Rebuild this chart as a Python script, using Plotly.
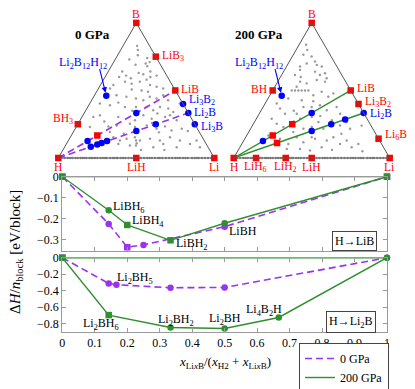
import math
import plotly.graph_objects as go

# target picture is 415x389; the page body adds an 8px margin, so the figure is drawn 8px in
W, H = 415, 389
OX, OY = 8, 8
FW, FH = W - OX, H - OY
FONT = "Liberation Serif, Times New Roman, serif"
RED, BLUE = "#ff0000", "#0000ff"
PURPLE, GREEN = "#9933ee", "#2f8f2f"
GRAY, AXIS = "#9a9a9a", "#9a9a9a"

# ---------------- ternary data: formula units (Li, B, H) ----------------
red_0gpa = [(0, 1, 0), (1, 3, 0), (1, 1, 0), (0, 1, 3), (0, 0, 1), (1, 0, 1), (1, 0, 0), (1, 1, 4)]
blue_0gpa = [(3, 2, 0), (2, 1, 0), (3, 1, 0), (2, 12, 12), (1, 1, 6), (1, 1, 1),
             (2, 1, 9), (2, 1, 7), (2, 1, 6), (2, 1, 5), (2, 1, 2), (2, 1, 1)]
red_200gpa = [(0, 1, 0), (0, 1, 1), (1, 1, 0), (3, 2, 0), (6, 1, 0), (0, 0, 1), (1, 0, 6),
              (1, 0, 2), (1, 0, 1), (1, 0, 0), (1, 1, 4), (1, 1, 2), (2, 1, 6)]
blue_200gpa = [(2, 1, 0), (2, 12, 12), (1, 1, 6), (1, 1, 1), (2, 1, 2), (2, 1, 1), (4, 2, 1)]
tie_lib = [(0, 0, 1), (1, 1, 0)]
tie_li2b = [(0, 0, 1), (2, 1, 0)]

# other sampled compositions (B fraction, Li fraction)
gray_0gpa = [
    (0.83, 0.09), (0.80, 0.11), (0.76, 0.13), (0.73, 0.09), (0.74, 0.20), (0.70, 0.21), (0.71, 0.23),
    (0.69, 0.15), (0.68, 0.23), (0.64, 0.09), (0.61, 0.13), (0.60, 0.09), (0.63, 0.20), (0.62, 0.235),
    (0.64, 0.27), (0.60, 0.29), (0.61, 0.325), (0.565, 0.145), (0.55, 0.195), (0.565, 0.24),
    (0.58, 0.276), (0.54, 0.318), (0.54, 0.083), (0.515, 0.074), (0.507, 0.217), (0.50, 0.284),
    (0.527, 0.367), (0.515, 0.415), (0.465, 0.141), (0.453, 0.21), (0.44, 0.278), (0.428, 0.331),
    (0.453, 0.36), (0.44, 0.41), (0.465, 0.44), (0.428, 0.49), (0.403, 0.065), (0.39, 0.136),
    (0.378, 0.238), (0.378, 0.377), (0.353, 0.432), (0.378, 0.463), (0.366, 0.522), (0.34, 0.567),
    (0.403, 0.578), (0.303, 0.073), (0.316, 0.109), (0.303, 0.233), (0.279, 0.352), (0.316, 0.387),
    (0.291, 0.453), (0.303, 0.533), (0.316, 0.558), (0.279, 0.62), (0.229, 0.088), (0.234, 0.204),
    (0.241, 0.254), (0.254, 0.332), (0.229, 0.377), (0.241, 0.446), (0.216, 0.522), (0.234, 0.567),
    (0.204, 0.624), (0.216, 0.683), (0.192, 0.235), (0.154, 0.276), (0.129, 0.33), (0.142, 0.367),
    (0.154, 0.414), (0.129, 0.459), (0.142, 0.517), (0.129, 0.587), (0.154, 0.639), (0.129, 0.715),
    (0.104, 0.792), (0.129, 0.822), (0.104, 0.333), (0.092, 0.413), (0.109, 0.448), (0.08, 0.569),
    (0.104, 0.621), (0.08, 0.719), (0.08, 0.868), (0.378, 0.309), (0.316, 0.34), (0.129, 0.434),
    (0.092, 0.452), (0.59, 0.17), (0.49, 0.33), (0.41, 0.18), (0.35, 0.30), (0.27, 0.16),
    (0.26, 0.47), (0.19, 0.55), (0.18, 0.33), (0.06, 0.50), (0.06, 0.65), (0.20, 0.73), (0.33, 0.47),
]
gray_200gpa = [
    (0.838, 0.045), (0.80, 0.072), (0.764, 0.065), (0.751, 0.124), (0.714, 0.164), (0.70, 0.118),
    (0.677, 0.087), (0.689, 0.188), (0.677, 0.226), (0.652, 0.099), (0.614, 0.086), (0.639, 0.202),
    (0.614, 0.246), (0.627, 0.272), (0.565, 0.143), (0.552, 0.192), (0.577, 0.244), (0.565, 0.303),
    (0.59, 0.301), (0.5, 0.122), (0.5, 0.143), (0.5, 0.165), (0.5, 0.186), (0.5, 0.207), (0.5, 0.229),
    (0.527, 0.14), (0.465, 0.278), (0.49, 0.319), (0.453, 0.38), (0.478, 0.40), (0.428, 0.222),
    (0.44, 0.13), (0.403, 0.074), (0.366, 0.114), (0.328, 0.165), (0.328, 0.24), (0.378, 0.258),
    (0.39, 0.358), (0.353, 0.42), (0.378, 0.471), (0.328, 0.518), (0.291, 0.28), (0.291, 0.098),
    (0.254, 0.149), (0.229, 0.204), (0.192, 0.286), (0.216, 0.339), (0.266, 0.41), (0.216, 0.467),
    (0.279, 0.489), (0.241, 0.561), (0.266, 0.591), (0.216, 0.638), (0.167, 0.139), (0.142, 0.226),
    (0.104, 0.298), (0.154, 0.327), (0.117, 0.388), (0.142, 0.45), (0.08, 0.524), (0.129, 0.532),
    (0.154, 0.562), (0.104, 0.63), (0.129, 0.66), (0.08, 0.716), (0.104, 0.747), (0.067, 0.307),
    (0.067, 0.392), (0.055, 0.462), (0.378, 0.311), (0.303, 0.349), (0.229, 0.386), (0.154, 0.423),
    (0.42, 0.30), (0.35, 0.21), (0.27, 0.25), (0.19, 0.40), (0.18, 0.60), (0.06, 0.60), (0.05, 0.80),
    (0.31, 0.40), (0.24, 0.70), (0.60, 0.13),
]
binary_li = [0.02, 0.04, 0.06, 0.075, 0.09, 0.11, 0.125, 0.143, 0.155, 0.167, 0.18, 0.2, 0.21, 0.22,
             0.235, 0.25, 0.27, 0.285, 0.3, 0.31, 0.333, 0.35, 0.36, 0.375, 0.38, 0.4, 0.415, 0.43,
             0.45, 0.47, 0.485, 0.5, 0.515, 0.53, 0.55, 0.57, 0.585, 0.6, 0.62, 0.64, 0.65, 0.667,
             0.69, 0.71, 0.73, 0.75, 0.765, 0.78, 0.8, 0.815, 0.83, 0.857, 0.875, 0.89, 0.9, 0.92,
             0.94, 0.96, 0.98]

# ---------------- convex-hull data ----------------
x_lib_0 = [0, 1/7, 1/5, 1/4, 1/2, 1]
dh_lib_0 = [0, -0.225, -0.336, -0.325, -0.238, 0]
sym_lib_0 = ["square", "circle", "square", "circle", "circle", "square"]
x_lib_200 = [0, 1/7, 1/5, 1/3, 1/2, 1]
dh_lib_200 = [0, -0.16, -0.23, -0.303, -0.222, 0]
sym_lib_200 = ["square", "circle", "square", "square", "circle", "square"]

x_li2b_0 = [0, 1/7, 1/6, 1/3, 1/2, 1]
dh_li2b_0 = [0, -0.313, -0.329, -0.365, -0.362, 0]
sym_li2b_0 = ["square", "circle", "circle", "circle", "circle", "circle"]
x_li2b_200 = [0, 1/7, 1/3, 1/2, 2/3, 1]
dh_li2b_200 = [0, -0.698, -0.849, -0.861, -0.727, 0]
sym_li2b_200 = ["square", "square", "circle", "circle", "circle", "circle"]

# ---------------- geometry (target pixels -> paper) ----------------
SQ3 = math.sqrt(3) / 2


def pxx(x):
    return (x - OX) / FW


def pxy(y):
    return 1 - (y - OY) / FH


TRI = {"left": dict(x0=58.3, y0=158.0, w=156.0), "right": dict(x0=233.7, y0=158.0, w=156.0)}


def tern_domain(t):
    return dict(x=[pxx(t["x0"]), pxx(t["x0"] + t["w"])],
                y=[pxy(t["y0"]), pxy(t["y0"] - t["w"] * SQ3)])


def frac(f):
    s = sum(f)
    return f[0] / s, f[1] / s, f[2] / s  # Li, B, H


def tern_paper(t, f):
    li, b, h = frac(f)
    return pxx(t["x0"] + t["w"] * (li + b / 2)), pxy(t["y0"] - t["w"] * SQ3 * b)


fig = go.Figure()


def add_tern(formulas, sub, **kw):
    fr = [frac(f) for f in formulas]
    fig.add_trace(go.Scatterternary(a=[p[1] for p in fr], b=[p[2] for p in fr], c=[p[0] for p in fr],
                                    subplot=sub, showlegend=False, cliponaxis=False,
                                    hoverinfo="skip", **kw))


for sub, gray in (("ternary", gray_0gpa), ("ternary2", gray_200gpa)):
    fig.add_trace(go.Scatterternary(
        a=[g[0] for g in gray] + [0] * len(binary_li),
        c=[g[1] for g in gray] + binary_li,
        b=[1 - g[0] - g[1] for g in gray] + [1 - v for v in binary_li],
        mode="markers", marker=dict(size=2.4, color=GRAY), subplot=sub,
        showlegend=False, cliponaxis=False, hoverinfo="skip"))

for tie in (tie_lib, tie_li2b):
    add_tern(tie, "ternary", mode="lines", line=dict(color=PURPLE, width=1.6, dash="7px,4px"))
    add_tern(tie, "ternary2", mode="lines", line=dict(color=GREEN, width=1.4))

add_tern(blue_0gpa, "ternary", mode="markers", marker=dict(symbol="circle", size=6.5, color=BLUE))
add_tern(red_0gpa, "ternary", mode="markers", marker=dict(symbol="square", size=6.5, color=RED))
add_tern(blue_200gpa, "ternary2", mode="markers", marker=dict(symbol="circle", size=6.5, color=BLUE))
add_tern(red_200gpa, "ternary2", mode="markers", marker=dict(symbol="square", size=6.5, color=RED))


# ---------------- panels ----------------
def add_hull(x, y, sym, color, dash, name, xa, ya, legend):
    fig.add_trace(go.Scatter(x=x, y=y, mode="lines", xaxis=xa, yaxis=ya, name=name,
                             showlegend=legend, line=dict(color=color, width=1.4 if dash is None else 1.6,
                                                          dash=dash or "solid"),
                             hoverinfo="skip"))
    fig.add_trace(go.Scatter(x=x, y=y, mode="markers", xaxis=xa, yaxis=ya, showlegend=False,
                             cliponaxis=False, marker=dict(symbol=sym, size=6.5, color=color)))


fig.add_trace(go.Scatter(x=[0, 1], y=[0, 0], mode="lines", xaxis="x", yaxis="y", showlegend=False,
                         line=dict(color="#555555", width=1.2), cliponaxis=False, hoverinfo="skip"))
fig.add_trace(go.Scatter(x=[0, 1], y=[0, 0], mode="lines", xaxis="x2", yaxis="y2", showlegend=False,
                         line=dict(color=GREEN, width=1.4), cliponaxis=False, hoverinfo="skip"))
add_hull(x_lib_0, dh_lib_0, sym_lib_0, PURPLE, "7px,4px", "0 GPa", "x", "y", True)
add_hull(x_lib_200, dh_lib_200, sym_lib_200, GREEN, None, "200 GPa", "x", "y", True)
add_hull(x_li2b_0, dh_li2b_0, sym_li2b_0, PURPLE, "7px,4px", "0 GPa", "x2", "y2", False)
add_hull(x_li2b_200, dh_li2b_200, sym_li2b_200, GREEN, None, "200 GPa", "x2", "y2", False)

# ---------------- annotations ----------------
ann = []


def lab(text, x, y, color="black", xanchor="center", dx=0, dy=0, xref="paper", yref="paper", size=12, **kw):
    ann.append(dict(text=text, x=x, y=y, xref=xref, yref=yref, showarrow=False, xanchor=xanchor,
                    yanchor="middle", xshift=dx, yshift=-dy, font=dict(family=FONT, size=size, color=color),
                    **kw))


left_labels = [
    ("B", (0, 1, 0), RED, 0, -9, "center"),
    ("LiB<sub>3</sub>", (1, 3, 0), RED, 4, -1, "left"),
    ("LiB", (1, 1, 0), RED, 4, -1, "left"),
    ("Li<sub>3</sub>B<sub>2</sub>", (3, 2, 0), BLUE, 4, -4, "left"),
    ("Li<sub>2</sub>B", (2, 1, 0), BLUE, 4, 0, "left"),
    ("Li<sub>3</sub>B", (3, 1, 0), BLUE, 4, 3, "left"),
    ("BH<sub>3</sub>", (0, 1, 3), RED, -3, -5, "right"),
    ("H", (0, 0, 1), RED, 0, 9, "center"),
    ("LiH", (1, 0, 1), RED, 0, 9, "center"),
    ("Li", (1, 0, 0), RED, 0, 9, "center"),
]
right_labels = [
    ("B", (0, 1, 0), RED, 0, -9, "center"),
    ("BH", (0, 1, 1), RED, -4, -1, "right"),
    ("LiB", (1, 1, 0), RED, 4, -2, "left"),
    ("Li<sub>3</sub>B<sub>2</sub>", (3, 2, 0), RED, 4, -2, "left"),
    ("Li<sub>2</sub>B", (2, 1, 0), BLUE, 4, 1, "left"),
    ("Li<sub>6</sub>B", (6, 1, 0), RED, 4, -4, "left"),
    ("H", (0, 0, 1), RED, 0, 9, "center"),
    ("LiH<sub>6</sub>", (1, 0, 6), RED, 0, 9, "center"),
    ("LiH<sub>2</sub>", (1, 0, 2), RED, 0, 9, "center"),
    ("LiH", (1, 0, 1), RED, 0, 9, "center"),
    ("Li", (1, 0, 0), RED, -1, 9, "center"),
]
for side, labels in (("left", left_labels), ("right", right_labels)):
    t = TRI[side]
    for text, f, col, dx, dy, anc in labels:
        px, py = tern_paper(t, f)
        lab(text, px, py, col, anc, dx, dy, size=11.5)
    # Li2B12H12 with arrow
    px, py = tern_paper(t, (2, 12, 12))
    lab("Li<sub>2</sub>B<sub>12</sub>H<sub>12</sub>", px, py, BLUE, "center", -23, -33)
    ann.append(dict(text="", x=px, y=py, xref="paper", yref="paper", showarrow=True, ax=-7, ay=-28,
                    arrowhead=2, arrowsize=1, arrowwidth=1.1, arrowcolor=BLUE, standoff=3))

lab("<b>0 GPa</b>", pxx(92), pxy(35), size=13)
lab("<b>200 GPa</b>", pxx(259), pxy(35), size=13)

panel_labels = [
    ("LiBH<sub>6</sub>", 1/7, -0.16, "x", "y", "left", 2, -3),
    ("LiBH<sub>4</sub>", 1/5, -0.23, "x", "y", "left", 3, -4),
    ("LiBH<sub>2</sub>", 1/3, -0.303, "x", "y", "left", 3, 4),
    ("LiBH", 1/2, -0.222, "x", "y", "left", 2, 8),
    ("Li<sub>2</sub>BH<sub>5</sub>", 1/6, -0.329, "x2", "y2", "left", -1, -7),
    ("Li<sub>2</sub>BH<sub>6</sub>", 1/7, -0.698, "x2", "y2", "center", -8, 9),
    ("Li<sub>2</sub>BH<sub>2</sub>", 1/3, -0.849, "x2", "y2", "center", 5, -8),
    ("Li<sub>2</sub>BH", 1/2, -0.861, "x2", "y2", "center", 0, -9),
    ("Li<sub>4</sub>B<sub>2</sub>H", 2/3, -0.727, "x2", "y2", "center", -15, -7),
]
for text, x, y, xr, yr, anc, dx, dy in panel_labels:
    lab(text, x, y, "black", anc, dx, dy, xref=xr, yref=yr)

box = dict(bordercolor="#444444", borderwidth=1, borderpad=2, bgcolor="white")
lab("H→LiB", pxx(354.5), pxy(240.5), **box)
lab("H→Li<sub>2</sub>B", pxx(351), pxy(321.5), **box)

ann.append(dict(text="Δ<i>H</i>/<i>n</i><sub>block</sub> [eV/block]", x=pxx(16), y=pxy(252),
                xref="paper", yref="paper", showarrow=False, textangle=-90,
                xanchor="center", yanchor="middle",
                font=dict(family=FONT, size=15, color="black")))
ann.append(dict(text="<i>x</i><sub>Li<i>x</i>B</sub>/(<i>x</i><sub>H2</sub> + <i>x</i><sub>Li<i>x</i>B</sub>)",
                x=pxx(225), y=pxy(362), xref="paper", yref="paper", showarrow=False,
                xanchor="center", yanchor="middle",
                font=dict(family=FONT, size=13, color="black")))

# ---------------- layout ----------------
tern_ax = dict(showgrid=False, showticklabels=False, ticks="", linecolor="#555555", linewidth=1,
               title=dict(text=""), min=0)
xdom = [pxx(62.3), pxx(387)]
cax = dict(showgrid=False, zeroline=False, showline=True, mirror="allticks", linecolor=AXIS,
           linewidth=1.3, ticks="inside", ticklen=4, tickcolor=AXIS, tickwidth=1, automargin=False,
           tickfont=dict(family=FONT, size=12, color="black"))

fig.update_layout(
    width=FW, height=FH, margin=dict(l=0, r=0, t=0, b=0, autoexpand=False),
    paper_bgcolor="white", plot_bgcolor="white",
    ternary=dict(domain=tern_domain(TRI["left"]), sum=1, bgcolor="white",
                 aaxis=tern_ax, baxis=tern_ax, caxis=tern_ax),
    ternary2=dict(domain=tern_domain(TRI["right"]), sum=1, bgcolor="white",
                  aaxis=tern_ax, baxis=tern_ax, caxis=tern_ax),
    xaxis=dict(domain=xdom, anchor="y", range=[0, 1], tick0=0, dtick=0.1, showticklabels=False, **cax),
    yaxis=dict(domain=[pxy(251), pxy(176.7)], anchor="x", range=[-0.354, 0], tick0=0, dtick=0.1, **cax),
    xaxis2=dict(domain=xdom, anchor="y2", range=[0, 1], tick0=0, dtick=0.1, **cax),
    yaxis2=dict(domain=[pxy(331.7), pxy(257.7)], anchor="x2", range=[-0.9, 0], tick0=0, dtick=0.2, **cax),
    legend=dict(x=pxx(389), xanchor="right", y=pxy(343), yanchor="top", bgcolor="white",
                bordercolor="#444444", borderwidth=1, font=dict(family=FONT, size=12, color="black"),
                tracegroupgap=0, itemwidth=30),
    annotations=ann,
    font=dict(family=FONT),
)

fig.write_html("out.html")
